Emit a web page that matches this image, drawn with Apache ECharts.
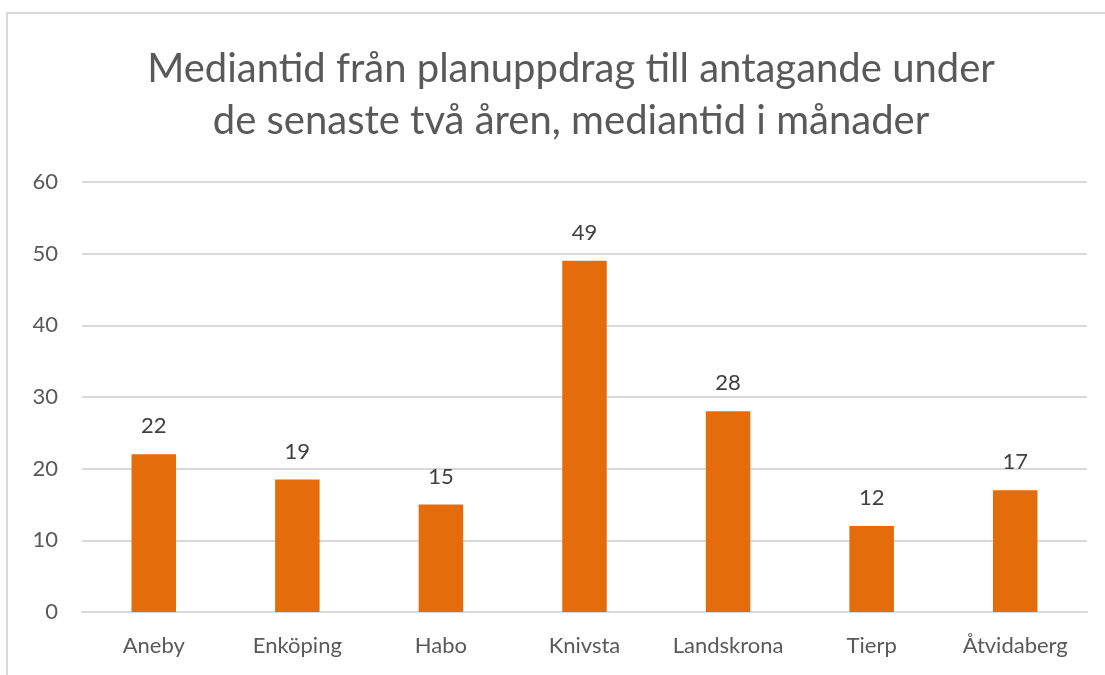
<!DOCTYPE html>
<html>
<head>
<meta charset="utf-8">
<script src="https://cdn.jsdelivr.net/npm/echarts@6/dist/echarts.min.js"></script>
<style>
  html, body { margin: 0; padding: 0; background: #fff; }
  #chart { width: 1105px; height: 675px; }
</style>
</head>
<body>
<div id="chart"></div>
<script>
var municipalities = ["Aneby", "Enköping", "Habo", "Knivsta", "Landskrona", "Tierp", "Åtvidaberg"];
var medianMonths = [22, 18.5, 15, 49, 28, 12, 17];
var titleText = "Mediantid från planuppdrag till antagande under\nde senaste två åren, mediantid i månader";

var chart = echarts.init(document.getElementById("chart"));
chart.setOption({
    animation: false,
    backgroundColor: "#fff",
    textStyle: { fontFamily: "Lato" },
    graphic: [
        {
            type: "rect",
            shape: { x: 7, y: 13, width: 1200, height: 700 },
            style: { fill: "none", stroke: "#d9d9d9", lineWidth: 2 },
            silent: true
        }
    ],
    title: {
        text: titleText,
        left: 566,
        textAlign: "center",
        top: 38,
        textStyle: {
            color: "#595959",
            fontSize: 40,
            fontWeight: "normal",
            lineHeight: 52,
            fontFamily: "Lato"
        }
    },
    grid: {
        left: 82,
        right: 18,
        top: 182,
        bottom: 63,
        containLabel: false
    },
    xAxis: {
        type: "category",
        data: municipalities,
        axisTick: { show: false },
        axisLine: { lineStyle: { color: "#d9d9d9", width: 2 } },
        axisLabel: { color: "#595959", fontSize: 22, margin: 23, interval: 0 }
    },
    yAxis: {
        type: "value",
        min: 0,
        max: 60,
        interval: 10,
        axisLine: { show: false },
        axisTick: { show: false },
        axisLabel: { color: "#595959", fontSize: 22, margin: 24, align: "right" },
        splitLine: { lineStyle: { color: "#d9d9d9", width: 2 } }
    },
    series: [
        {
            type: "bar",
            data: medianMonths,
            barWidth: "31%",
            itemStyle: { color: "#E46C0A" },
            label: {
                show: true,
                position: "top",
                distance: 17,
                color: "#404040",
                fontSize: 22,
                formatter: function (p) { return Math.round(p.value); }
            }
        }
    ]
});
</script>
</body>
</html>
